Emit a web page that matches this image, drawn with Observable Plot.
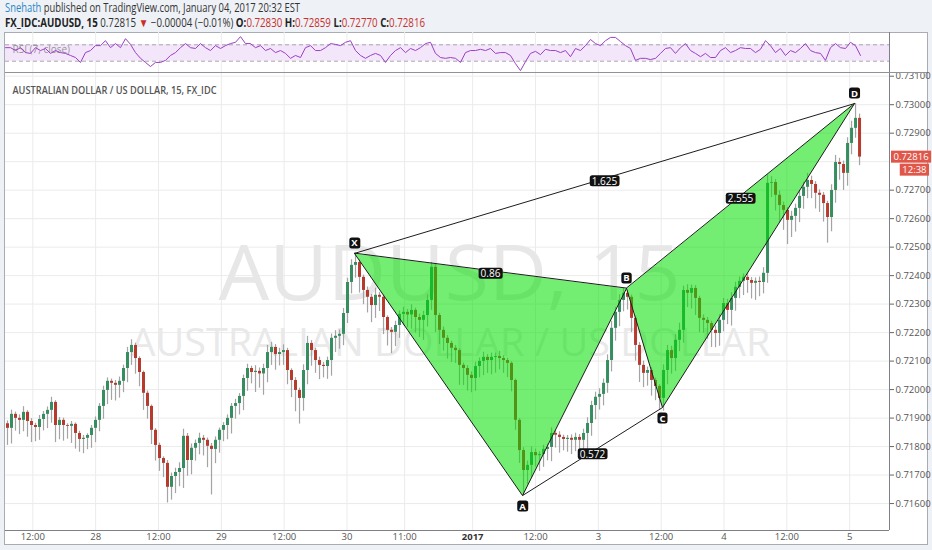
<!DOCTYPE html>
<html>
<head>
<meta charset="utf-8">
<script src="https://cdn.jsdelivr.net/npm/d3@7"></script>
<script src="https://cdn.jsdelivr.net/npm/@observablehq/plot@0.6"></script>
<style>
html,body{margin:0;padding:0;}
body{width:932px;height:550px;background:#eef1f6;position:relative;overflow:hidden;font-family:"Open Sans",sans-serif;}
.hdr{position:absolute;left:5px;white-space:nowrap;color:#333;font-size:12px;line-height:14px;transform-origin:0 50%;}
#h1{top:1px;}
#h2{top:16px;}
#h2 b{font-weight:700;color:#222;}
.red{color:#c9302c;}
.user{color:#2a86c8;}
#frame{position:absolute;left:4px;top:32px;width:924px;height:513px;box-sizing:border-box;background:#fff;border:1px solid #a9adb3;}
#rsi{position:absolute;left:5px;top:32px;}
#main{position:absolute;left:5px;top:72px;}
#sep{position:absolute;left:5px;top:72px;width:922px;height:1px;background:#8f9398;}
</style>
</head>
<body>
<div id="h1" class="hdr"></div>
<div id="h2" class="hdr"></div>
<div id="frame"></div>
<div id="rsi"></div>
<div id="main"></div>
<div id="sep"></div>
<script>
// ---------- header values ----------
const author = "Snehath";
const publishedText = " published on TradingView.com, January 04, 2017 20:32 EST";
const symbolText = "FX_IDC:AUDUSD, 15";
const lastPrice = "0.72815";
const changeText = "\u22120.00004 (\u22120.01%)";
const ohlcKeys = ["O", "H", "L", "C"];
const ohlcVals = ["0.72830", "0.72859", "0.72770", "0.72816"];
const paneTitle = "AUSTRALIAN DOLLAR / US DOLLAR, 15, FX_IDC";
const watermarkBig = "AUDUSD, 15";
const watermarkSmall = "AUSTRALIAN DOLLAR / US DOLLAR";
const rsiTitle = "RSI (7, close)";
const countdown = "12:38";

// ---------- time axis (trading hours since Dec 27 00:00, weekend removed) ----------
const xTickHours = [12, 24, 36, 48, 60, 72, 83, 108, 120, 132, 144, 156, 168];
const xTickLabels = ["12:00", "28", "12:00", "29", "12:00", "30", "11:00", "12:00", "3", "12:00", "4", "12:00", "5"];
const yearTickHour = [96];
const yearTickLabel = "2017";
const xDomain = [6.787, 175.60];

// ---------- price axis ----------
const yTicks = [0.716, 0.717, 0.718, 0.719, 0.720, 0.721, 0.722, 0.723, 0.724, 0.725, 0.726, 0.727, 0.728, 0.729, 0.730, 0.731];
const yDomain = [0.715054, 0.73113];

// ---------- candles ----------
const barStartHour = 7.169, barStepHour = 0.7639;
const firstOpen = 0.71880;
const closes = [
0.71864,0.71913,0.71899,0.71892,0.71920,0.71888,0.71874,0.71867,0.71895,0.71913,
0.71927,0.71955,0.71874,0.71892,0.71874,0.71871,0.71878,0.71846,0.71825,0.71829,
0.71839,0.71864,0.71892,0.71941,0.71997,0.72029,0.72022,0.72015,0.72029,0.72074,
0.72130,0.72155,0.72109,0.72060,0.71987,0.71941,0.71857,0.71804,0.71758,0.71741,
0.71657,0.71695,0.71709,0.71723,0.71836,0.71751,0.71794,0.71811,0.71829,0.71822,
0.71801,0.71790,0.71822,0.71857,0.71874,0.71899,0.71941,0.71951,0.71976,0.72039,
0.72074,0.72060,0.72064,0.72055,0.72074,0.72130,0.72148,0.72123,0.72130,0.72137,
0.72067,0.72032,0.71997,0.71969,0.72067,0.72162,0.72137,0.72102,0.72085,0.72081,
0.72102,0.72180,0.72187,0.72194,0.72267,0.72376,0.72436,0.72446,0.72394,0.72348,
0.72324,0.72295,0.72331,0.72324,0.72253,0.72208,0.72201,0.72225,0.72264,0.72271,
0.72262,0.72278,0.72253,0.72243,0.72260,0.72313,0.72429,0.72260,0.72208,0.72180,
0.72162,0.72145,0.72137,0.72085,0.72074,0.72050,0.72039,0.72081,0.72099,0.72113,
0.72102,0.72113,0.72116,0.72109,0.72102,0.72092,0.72032,0.71892,0.71786,0.71716,
0.71734,0.71779,0.71768,0.71772,0.71790,0.71797,0.71846,0.71840,0.71832,0.71825,
0.71829,0.71822,0.71832,0.71822,0.71846,0.71881,0.71944,0.71973,0.71983,0.72022,
0.72102,0.72215,0.72271,0.72313,0.72338,0.72324,0.72250,0.72155,0.72085,0.72057,
0.72067,0.72032,0.72011,0.71969,0.72067,0.72137,0.72109,0.72173,0.72208,0.72348,
0.72338,0.72355,0.72320,0.72250,0.72243,0.72232,0.72208,0.72197,0.72243,0.72302,
0.72278,0.72320,0.72359,0.72380,0.72394,0.72383,0.72373,0.72380,0.72376,0.72408,
0.72724,0.72727,0.72682,0.72646,0.72629,0.72594,0.72608,0.72636,0.72678,0.72710,
0.72734,0.72720,0.72689,0.72682,0.72653,0.72604,0.72699,0.72797,0.72790,0.72759,
0.72864,0.72917,0.72952,0.72816
];
// wick lengths above / below the body, in 0.00001
const upperWick = [
10,15,8,12,20,6,10,8,14,10, 12,18,6,10,8,6,10,5,8,10, 6,10,12,10,15,12,8,10,15,12,
18,20,8,6,5,8,5,6,8,6, 10,12,15,20,25,10,15,12,18,10, 8,10,12,8,10,12,10,15,10,12,
15,8,20,12,15,25,18,10,15,20, 8,6,10,8,20,25,10,8,12,10, 12,15,20,15,18,15,20,32,10,8,
12,10,25,10,8,6,10,15,12,18, 10,20,8,12,15,20,17,10,8,12, 10,8,10,6,8,10,12,15,12,18,
10,15,12,18,10,8,6,5,6,10, 15,20,12,10,15,12,20,10,12,8, 10,12,15,10,15,20,15,18,20,15,
20,25,18,20,17,10,8,8,10,15, 12,10,8,6,20,18,15,20,25,15, 20,12,10,8,12,10,8,15,20,18,
15,20,18,15,12,15,10,12,15,20, 30,20,10,15,12,10,18,15,20,18, 25,15,10,12,10,8,20,25,15,12,
20,25,52,15
];
const lowerWick = [
60,55,45,50,40,55,60,50,45,40, 50,45,60,50,55,45,60,55,45,50, 40,45,50,40,45,50,60,55,45,40,
50,45,55,50,60,45,50,55,45,50, 55,45,60,50,70,55,50,45,40,55, 75,160,50,45,40,50,55,45,40,50,
45,40,70,50,75,50,45,55,40,45, 50,60,75,90,45,50,55,45,50,40, 45,55,50,45,40,35,40,45,55,50,
55,60,45,50,60,55,75,50,45,40, 45,50,55,60,70,40,35,60,50,45, 55,50,45,70,60,55,50,45,40,50,
45,50,55,40,45,50,40,35,45,88, 50,45,40,55,45,40,50,45,55,40, 45,50,40,45,50,55,45,50,45,40,
35,40,45,50,40,45,50,55,60,50, 45,55,50,40,45,50,55,45,40,45, 50,55,60,50,45,55,60,50,45,40,
50,55,45,40,50,45,55,60,50,40, 35,50,55,60,70,85,60,55,50,45, 40,50,55,60,65,90,50,45,55,60,
45,40,35,30
];

// ---------- RSI (7, close) ----------
const rsiStartHour = 6.787, rsiStepHour = 0.9548;
const rsiValues = [
63,63,56,63,51,49,63,56,61,49,
56,51,49,44,39,27,51,56,68,68,
80,63,73,63,85,71,51,37,27,17,
27,27,32,44,51,63,73,63,61,73,
63,56,68,61,68,73,76,90,73,73,
63,68,56,61,51,56,49,37,44,39,
63,68,56,56,63,73,71,68,76,80,
56,44,37,44,49,44,27,44,56,63,
51,61,56,63,73,76,49,39,37,39,
37,27,51,56,56,59,56,61,49,51,
51,44,24,7,29,49,54,46,59,56,
56,51,56,41,61,56,68,83,73,68,
80,88,88,78,68,61,32,37,37,34,
37,49,61,63,49,63,73,56,49,41,
49,39,39,56,63,51,56,63,61,61,
51,59,80,68,51,61,44,56,51,61,
73,56,51,49,32,63,73,63,61,76,
68,44
];
const rsiBand = [30, 70];

// ---------- XABCD pattern ----------
const patternNames = ["X", "A", "B", "C", "D"];
const patternHours = [73.43, 105.52, 125.38, 132.25, 168.92];
const patternPrices = [0.72478, 0.71628, 0.72355, 0.71937, 0.73004];
const labelsAbove = ["X", "B", "D"];
const legFrom = ["X", "X", "A", "B"];
const legTo = ["D", "B", "C", "D"];
const legRatios = ["1.625", "0.86", "0.572", "2.555"];

// ---------- build tables ----------
const candles = closes.map((c, i) => {
  const o = i ? closes[i - 1] : firstOpen;
  return {
    t: barStartHour + i * barStepHour, open: o, close: c,
    high: Math.max(o, c) + upperWick[i] * 1e-5,
    low: Math.min(o, c) - lowerWick[i] * 1e-5
  };
});
const rsi = rsiValues.map((v, i) => ({t: rsiStartHour + i * rsiStepHour, v}));
const pts = patternNames.map((n, i) => ({name: n, t: patternHours[i], price: patternPrices[i]}));
const P = Object.fromEntries(pts.map(d => [d.name, d]));
const triangles = [
  ...["X", "A", "B"].map(n => ({...P[n], tri: 1})),
  ...["B", "C", "D"].map(n => ({...P[n], tri: 2}))
];
const legs = legFrom.map((a, i) => ({a: P[a], b: P[legTo[i]], ratio: legRatios[i]}));
const links = [{a: P.X, b: P.D}, {a: P.A, b: P.C}];
const xLabel = new Map(xTickHours.map((h, i) => [h, xTickLabels[i]]));
const lastClose = closes[closes.length - 1];
// the axis label hidden under the last-price box
const axisLabelTicks = yTicks.filter(v => Math.abs(v - lastClose) > 0.0003);

const GREEN = "#368d5f", RED = "#b63a2e", WICK = "#a4a4a4";
const FONT = "Open Sans, Liberation Sans, sans-serif";

// ---------- header ----------
document.getElementById("h1").innerHTML = `<span class="user">${author}</span>${publishedText}`;
document.getElementById("h2").innerHTML =
  `<b>${symbolText}</b> ${lastPrice} <span class="red">\u25BC</span> ${changeText} ` +
  ohlcKeys.map((k, i) => `<b>${k}:</b><span class="red">${ohlcVals[i]}</span>`).join(" ");

// ---------- RSI pane ----------
const rsiPlot = Plot.plot({
  width: 922, height: 41, marginLeft: 0, marginRight: 38, marginTop: 0, marginBottom: 0,
  x: {domain: xDomain, axis: null},
  y: {domain: [0, 100], axis: null},
  style: {background: "transparent", fontFamily: FONT, overflow: "visible"},
  marks: [
    Plot.gridX(xTickHours.concat(yearTickHour), {stroke: "#ececec", strokeOpacity: 1}),
    Plot.rect([rsiBand], {y1: d => d[0], y2: d => d[1], fill: "#f3e6fb"}),
    Plot.ruleY(rsiBand, {stroke: "#aaa3b0", strokeDasharray: "4,3"}),
    Plot.text([rsiTitle], {frameAnchor: "top-left", dx: 7, dy: 13.5, textAnchor: "start", fontSize: 10, fill: "#8a8a8a", fillOpacity: 0.9}),
    Plot.line(rsi, {x: "t", y: "v", stroke: "#9b3fc2", strokeWidth: 1}),
    Plot.ruleX([xDomain[1]], {stroke: "#7d8187"})
  ]
});
document.getElementById("rsi").appendChild(rsiPlot);

// ---------- main pane ----------
const mainPlot = Plot.plot({
  width: 922, height: 472, marginLeft: 0, marginRight: 38, marginTop: 0, marginBottom: 14,
  x: {domain: xDomain, axis: null},
  y: {domain: yDomain, axis: null},
  color: {type: "identity"},
  style: {background: "transparent", fontFamily: FONT, overflow: "visible"},
  marks: [
    Plot.gridX(xTickHours.concat(yearTickHour), {stroke: "#ebebeb", strokeOpacity: 1}),
    Plot.gridY(yTicks, {stroke: "#ebebeb", strokeOpacity: 1}),
    Plot.text([watermarkBig], {frameAnchor: "middle", dx: 2, dy: -25.5, fontSize: 76, fill: "#e7e7e7", className: "wm1"}),
    Plot.text([watermarkSmall], {frameAnchor: "middle", dx: 3, dy: 42.5, fontSize: 38, fill: "#e9e9e9", className: "wm2"}),
    Plot.text([paneTitle], {frameAnchor: "top-left", dx: 7, dy: 14, textAnchor: "start", fontSize: 11, fontWeight: 600, fill: "#555", className: "ptitle"}),
    Plot.ruleX(candles, {x: "t", y1: "low", y2: "high", stroke: WICK, strokeWidth: 1.2}),
    Plot.ruleX(candles, {x: "t", y1: "open", y2: "close", stroke: d => d.close >= d.open ? GREEN : RED, strokeWidth: 3}),
    Plot.line(triangles, {x: "t", y: "price", z: "tri", curve: "linear-closed", fill: "#00e000", fillOpacity: 0.55, stroke: "#1c1c1c", strokeWidth: 1}),
    Plot.link(links, {x1: d => d.a.t, y1: d => d.a.price, x2: d => d.b.t, y2: d => d.b.price, stroke: "#1c1c1c", strokeWidth: 1}),
    Plot.text(legs, {x: d => (d.a.t + d.b.t) / 2, y: d => (d.a.price + d.b.price) / 2, text: "ratio", dy: 3, fill: "white", fontSize: 10, className: "blabel"}),
    Plot.text(pts.filter(d => labelsAbove.includes(d.name)), {x: "t", y: "price", text: "name", dy: -10, fill: "white", fontSize: 9.5, fontWeight: 700, className: "plabel"}),
    Plot.text(pts.filter(d => !labelsAbove.includes(d.name)), {x: "t", y: "price", text: "name", dy: 11, fill: "white", fontSize: 9.5, fontWeight: 700, className: "plabel"}),
    Plot.ruleY([yDomain[0]], {stroke: "#7d8187"}),
    Plot.ruleX([xDomain[1]], {stroke: "#7d8187"}),
    Plot.axisX(xTickHours, {label: null, tickSize: 0, tickPadding: 3, tickFormat: d => xLabel.get(d), fontSize: 9.5, fill: "#555"}),
    Plot.axisX(yearTickHour, {label: null, tickSize: 0, tickPadding: 3, tickFormat: () => yearTickLabel, fontSize: 9.5, fontWeight: 700, fill: "#333"}),
    Plot.axisY(axisLabelTicks, {label: null, anchor: "right", tickSize: 4, tickPadding: 2, tickFormat: d3.format(".5f"), fontSize: 9.5, fill: "#555", stroke: "#666"}),
    Plot.text([lastClose], {y: d => d, text: d => d3.format(".5f")(d), frameAnchor: "right", textAnchor: "start", dx: 4, fill: "white", fontSize: 9.5, className: "pricebox"}),
    Plot.text([lastClose], {y: d => d, text: () => countdown, frameAnchor: "right", textAnchor: "end", dx: 37, dy: 13, fill: "white", fontSize: 9.5, className: "pricebox"})
  ]
});
document.getElementById("main").appendChild(mainPlot);

// ---------- post-processing: label boxes and fitted text ----------
const NS = "http://www.w3.org/2000/svg";
function addBoxes(svg, cls, fill, padX, shrinkY, rx) {
  svg.querySelectorAll(`.${cls} text`).forEach(t => {
    const b = t.getBBox();
    const r = document.createElementNS(NS, "rect");
    r.setAttribute("x", b.x - padX);
    r.setAttribute("y", b.y + shrinkY);
    r.setAttribute("width", b.width + 2 * padX);
    r.setAttribute("height", b.height - 2 * shrinkY);
    r.setAttribute("rx", rx);
    r.setAttribute("fill", fill);
    if (t.getAttribute("transform")) r.setAttribute("transform", t.getAttribute("transform"));
    t.parentNode.insertBefore(r, t);
  });
}
function fitText(svg, cls, len) {
  svg.querySelectorAll(`.${cls} text`).forEach(t => {
    t.setAttribute("textLength", len);
    t.setAttribute("lengthAdjust", "spacingAndGlyphs");
  });
}
function finish() {
  fitText(mainPlot, "wm1", 462);
  fitText(mainPlot, "wm2", 640);
  fitText(mainPlot, "ptitle", 204);
  addBoxes(mainPlot, "blabel", "#111", 2, 1.5, 2.5);
  addBoxes(mainPlot, "plabel", "#111", 2, 1, 2.5);
  addBoxes(mainPlot, "pricebox", "#e0574a", 2.5, 0.5, 0);
  [["h1", 295], ["h2", 420]].forEach(([id, target]) => {
    const el = document.getElementById(id);
    const w = el.getBoundingClientRect().width;
    el.style.transform = `scaleX(${target / w})`;
  });
}
finish();
</script>
</body>
</html>
